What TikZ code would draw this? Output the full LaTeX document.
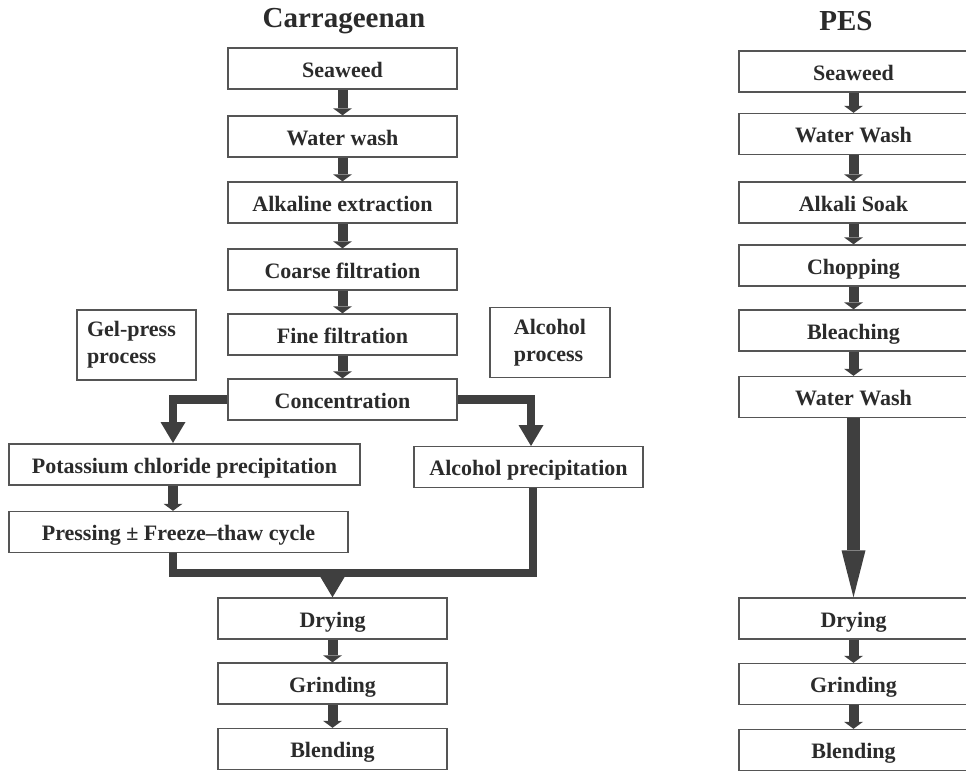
\documentclass[tikz,border=0pt]{standalone}
\usepackage{fontspec}
\setmainfont{Liberation Serif}
\usetikzlibrary{arrows.meta}
\definecolor{boxline}{HTML}{555555}
\definecolor{arrowfill}{HTML}{3F3F3F}
\definecolor{txt}{HTML}{2B2B2B}

\begin{document}
\begin{tikzpicture}[x=1pt, y=-1pt,
  stage/.style={draw=boxline, line width=1.4pt, fill=white, text=txt,
    font=\fontsize{22}{27}\selectfont\bfseries, text height=18pt, text depth=1pt,
    minimum width=229pt, minimum height=41pt, inner sep=2pt},
  note/.style={stage, align=left, text height=, text depth=, minimum height=70pt},
  title/.style={text=txt, font=\fontsize{29}{33}\selectfont\bfseries},
  blockarrow/.style={color=arrowfill, line width=10pt, -{Triangle[width=19pt,length=7pt,line width=0pt 0 0]}},
  flowline/.style={color=arrowfill, line width=8.5pt, line join=miter},
  flowarrow/.style={flowline, -{Triangle[width=25pt,length=21pt,line width=0pt 0 0]}},
]
\clip (0,0) rectangle (966,772);

% Titles
\node[title] (ctitle) at (344,21) {Carrageenan};
\node[title] (ptitle) at (846,21) {PES};

% Carrageenan column
\node[stage] (cseaweed) at (342.5,68.5)  {Seaweed};
\node[stage] (cwash)    at (342.5,136.5) {Water wash};
\node[stage] (calkali)  at (342.5,202.5) {Alkaline extraction};
\node[stage] (ccoarse)  at (342.5,269.5) {Coarse filtration};
\node[stage] (cfine)    at (342.5,334.5) {Fine filtration};
\node[stage] (cconc)    at (342.5,399.5) {Concentration};

% Process labels
\node[note, minimum width=0pt, text width=99pt, inner xsep=10pt] (gelpress) at (136.5,345) {Gel-press\\process};
\node[note, minimum width=120pt] (alcproc) at (550,342.5) {Alcohol\\process};

% Branches
\node[stage, minimum width=351pt] (kcl)     at (184.5,464.5) {Potassium chloride precipitation};
\node[stage, minimum width=339pt] (press)   at (178.5,532)   {Pressing \textpm{} Freeze--thaw cycle};
\node[stage]                      (alcprec) at (528.5,467)   {Alcohol precipitation};

% Carrageenan finishing
\node[stage] (cdry)   at (332.5,618.5) {Drying};
\node[stage] (cgrind) at (332.5,683.5) {Grinding};
\node[stage] (cblend) at (332.5,749)   {Blending};

% PES column
\node[stage] (pseaweed) at (853.5,71.5)  {Seaweed};
\node[stage] (pwash)    at (853.5,134)   {Water Wash};
\node[stage] (psoak)    at (853.5,202.5) {Alkali Soak};
\node[stage] (pchop)    at (853.5,265.5) {Chopping};
\node[stage] (pbleach)  at (853.5,330.5) {Bleaching};
\node[stage] (pwash2)   at (853.5,397)   {Water Wash};
\node[stage] (pdry)     at (853.5,618.5) {Drying};
\node[stage] (pgrind)   at (853.5,684)   {Grinding};
\node[stage] (pblend)   at (853.5,750)   {Blending};

% Bend points
\coordinate (kcltop) at (173,443);
\coordinate (alctop) at (531,446);
\coordinate (mergeL) at (173,573);
\coordinate (mergeR) at (533,573);

% Carrageenan arrows
\draw[blockarrow] (cseaweed) -- (cwash);
\draw[blockarrow] (cwash) -- (calkali);
\draw[blockarrow] (calkali) -- (ccoarse);
\draw[blockarrow] (ccoarse) -- (cfine);
\draw[blockarrow] (cfine) -- (cconc);
\draw[flowarrow] (cconc.west) -| (kcltop);
\draw[flowarrow] (cconc.east) -| (alctop);
\draw[blockarrow] (kcl.south -| kcltop) -- (press.north -| kcltop);
\draw[flowline] (press.south -| mergeL) -- (mergeL) -- (mergeR) -- (alcprec.south -| mergeR);
\draw[flowarrow] (cdry.north |- mergeL) -- (cdry.north);
\draw[blockarrow] (cdry) -- (cgrind);
\draw[blockarrow] (cgrind) -- (cblend);

% PES arrows
\draw[blockarrow] (pseaweed) -- (pwash);
\draw[blockarrow] (pwash) -- (psoak);
\draw[blockarrow] (psoak) -- (pchop);
\draw[blockarrow] (pchop) -- (pbleach);
\draw[blockarrow] (pbleach) -- (pwash2);
\draw[color=arrowfill, line width=13pt, -{Triangle[width=24pt,length=47pt,line width=0pt 0 0]}]
  (pwash2) -- (pdry);
\draw[blockarrow] (pdry) -- (pgrind);
\draw[blockarrow] (pgrind) -- (pblend);
\end{tikzpicture}
\end{document}
